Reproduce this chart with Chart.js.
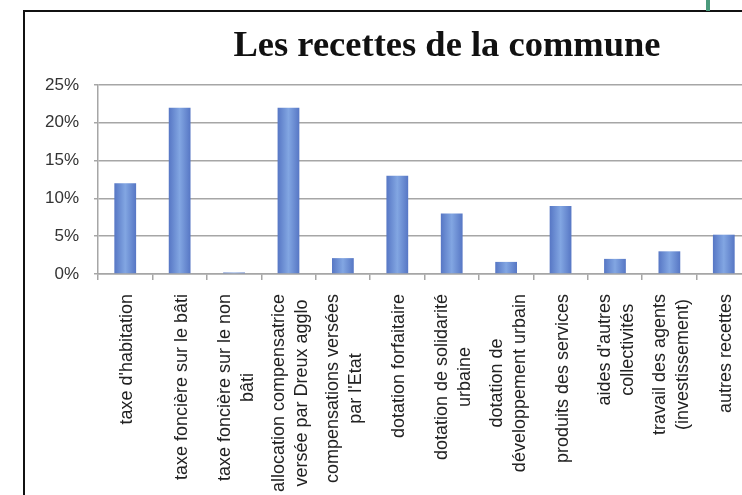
<!DOCTYPE html>
<html>
<head>
<meta charset="utf-8">
<script src="https://cdn.jsdelivr.net/npm/chart.js@4"></script>
<style>
  html, body { margin: 0; padding: 0; background: #fff; }
  #wrap { position: relative; width: 742px; height: 495px; overflow: hidden; background: #fff; }
  #frame { position: absolute; left: 23px; top: 10px; width: 2000px; height: 2000px;
           border-left: 2.5px solid #111; border-top: 2.5px solid #111; box-sizing: border-box; }
  #green { position: absolute; left: 706px; top: 0px; width: 4px; height: 11px; background: #4b9a7c; }
  #c { position: absolute; left: 0; top: 0; }
</style>
</head>
<body>
<div id="wrap">
  <div id="frame"></div>
  <div id="green"></div>
  <canvas id="c" width="894" height="495" style="width:894px;height:495px"></canvas>
</div>
<script>
const titleText = "Les recettes de la commune";
const categories = [
  ["taxe d'habitation"],
  ["taxe foncière sur le bâti"],
  ["taxe foncière sur le non", "bâti"],
  ["allocation compensatrice", "versée par Dreux agglo"],
  ["compensations versées", "par l'Etat"],
  ["dotation forfaitaire"],
  ["dotation de solidarité", "urbaine"],
  ["dotation de", "développement urbain"],
  ["produits des services"],
  ["aides d'autres", "collectivités"],
  ["travail des agents", "(investissement)"],
  ["autres recettes"]
];
const values = [12, 22, 0.2, 22, 2.1, 13, 8, 1.6, 9, 2, 3, 5.2];
const yTicks = [0, 5, 10, 15, 20, 25];

const gridColor = '#a6a6a6';
const labelFont = '18px "Liberation Sans", Arial, sans-serif';
const titleFont = 'bold 36.5px "Liberation Serif", "Times New Roman", serif';

function barColor(ctx) {
  const chart = ctx.chart;
  const xs = chart.scales && chart.scales.x;
  if (!xs || ctx.dataIndex === undefined) return '#6a8fd4';
  const cx = xs.getPixelForValue(ctx.dataIndex);
  if (!isFinite(cx)) return '#6a8fd4';
  const half = 11;
  const g = chart.ctx.createLinearGradient(cx - half, 0, cx + half, 0);
  g.addColorStop(0, '#5676c4');
  g.addColorStop(0.5, '#82a6e2');
  g.addColorStop(1, '#5676c4');
  return g;
}

const textPlugin = {
  id: 'textPlugin',
  afterDraw(chart) {
    const xs = chart.scales.x;
    const ctx = chart.ctx;
    // title
    ctx.save();
    ctx.font = titleFont;
    ctx.fillStyle = '#111';
    ctx.textAlign = 'center';
    ctx.textBaseline = 'alphabetic';
    ctx.fillText(titleText, 447, 56);
    ctx.restore();
    // category labels, rotated, lines centered
    const yTop = chart.chartArea.bottom + 20;
    const lh = 23;
    ctx.save();
    ctx.font = labelFont;
    ctx.fillStyle = '#222';
    ctx.textAlign = 'center';
    ctx.textBaseline = 'middle';
    categories.forEach((lines, i) => {
      const x = xs.getPixelForValue(i);
      let maxW = 0;
      lines.forEach(l => { maxW = Math.max(maxW, ctx.measureText(l).width); });
      ctx.save();
      ctx.translate(x + 2, yTop);
      ctx.rotate(-Math.PI / 2);
      const n = lines.length;
      lines.forEach((l, k) => {
        const off = (k - (n - 1) / 2) * lh;
        ctx.fillText(l, -maxW / 2, off);
      });
      ctx.restore();
    });
    ctx.restore();
  }
};

new Chart(document.getElementById('c'), {
  type: 'bar',
  data: {
    labels: categories,
    datasets: [{
      data: values,
      backgroundColor: barColor,
      borderWidth: 0,
      barPercentage: 0.4,
      categoryPercentage: 1.0
    }]
  },
  options: {
    responsive: false,
    animation: false,
    devicePixelRatio: 1,
    layout: { padding: { left: 30, right: 143, top: 85, bottom: 215 } },
    plugins: {
      legend: { display: false },
      tooltip: { enabled: false },
      title: { display: false }
    },
    scales: {
      x: {
        grid: { display: true, drawOnChartArea: false, offset: true, tickLength: 6, color: gridColor, lineWidth: 1.5 },
        border: { display: true, color: gridColor, width: 1.5 },
        ticks: { display: false }
      },
      y: {
        min: 0,
        max: 25,
        afterBuildTicks(scale) { scale.ticks = yTicks.map(v => ({ value: v })); },
        grid: { color: gridColor, lineWidth: 1.5, tickLength: 4 },
        border: { display: true, color: gridColor, width: 1.5 },
        ticks: {
          padding: 15,
          color: '#333',
          font: { family: '"Liberation Sans", Arial, sans-serif', size: 17 },
          callback: v => v + '%'
        }
      }
    }
  },
  plugins: [textPlugin]
});
</script>
</body>
</html>
